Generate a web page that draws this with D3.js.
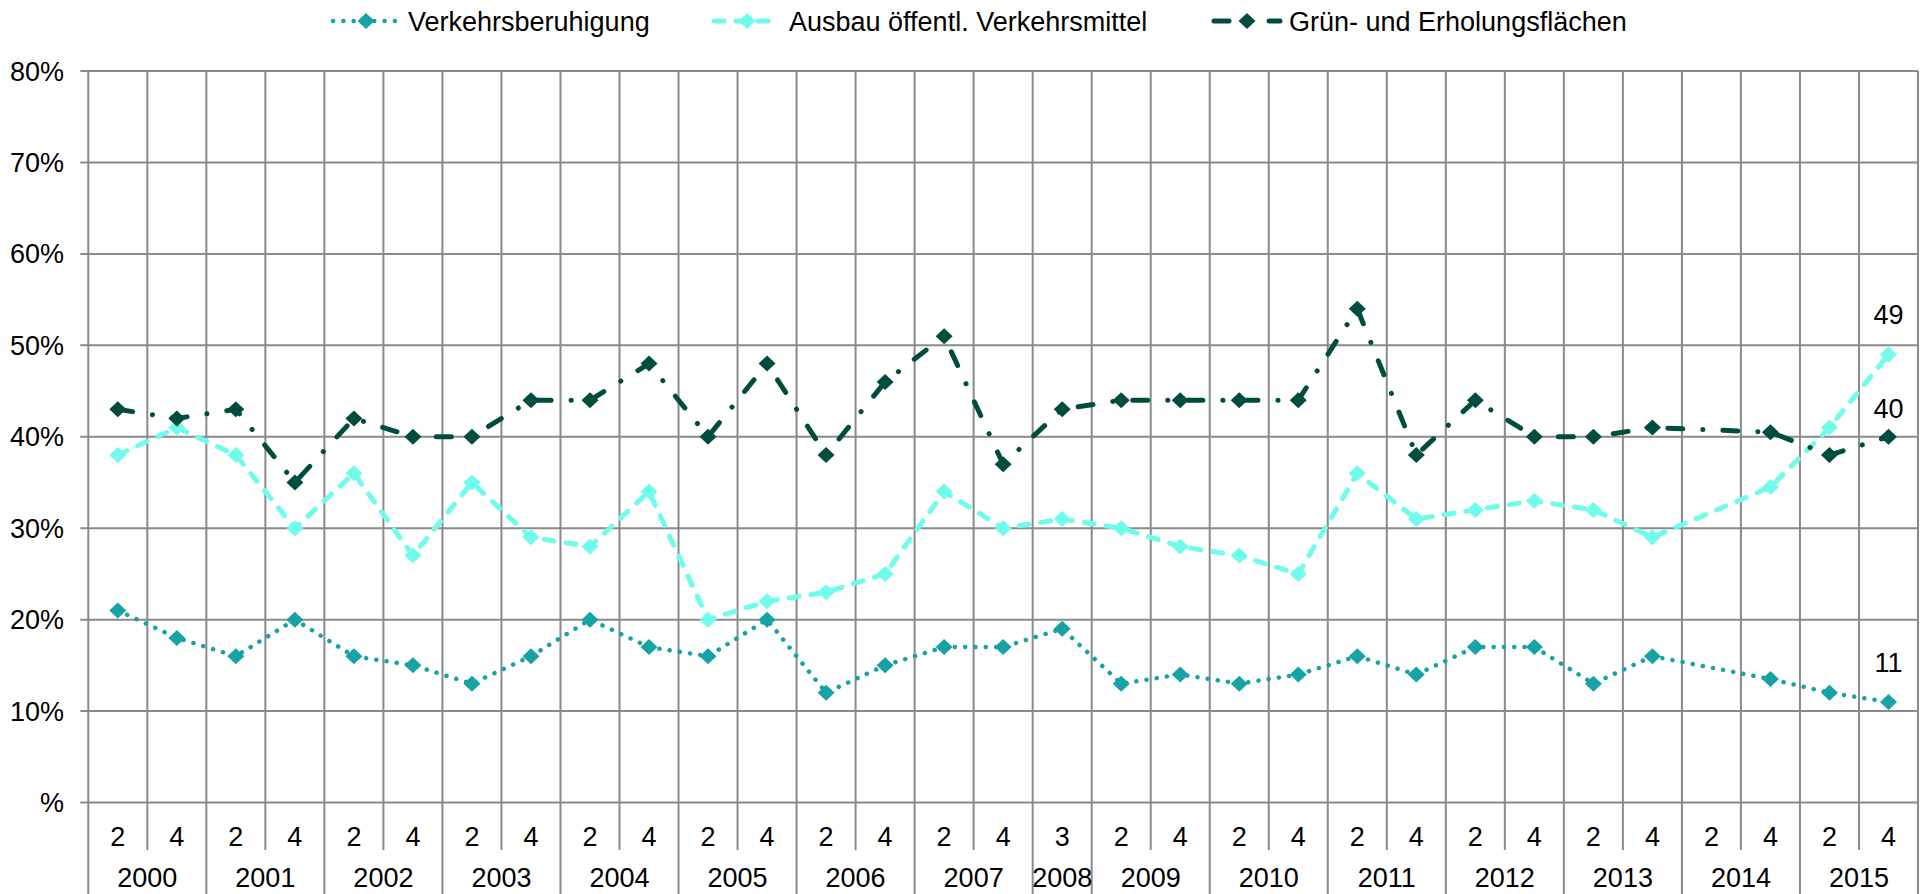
<!DOCTYPE html>
<html>
<head>
<meta charset="utf-8">
<script src="https://cdn.jsdelivr.net/npm/d3@7"></script>
<style>
body { margin: 0; background: #fff; }
svg { display: block; font-family: "Liberation Sans", Arial, sans-serif; }
</style>
</head>
<body>
<div id="chart"></div>
<script>
// Halbjahre (Jahr-Quartal) als Kategorien
const periods = [
  "2000-2", "2000-4", "2001-2", "2001-4", "2002-2", "2002-4", "2003-2", "2003-4",
  "2004-2", "2004-4", "2005-2", "2005-4", "2006-2", "2006-4", "2007-2", "2007-4",
  "2008-3", "2009-2", "2009-4", "2010-2", "2010-4", "2011-2", "2011-4", "2012-2",
  "2012-4", "2013-2", "2013-4", "2014-2", "2014-4", "2015-2", "2015-4"
];

const verkehrsberuhigung = [21, 18, 16, 20, 16, 15, 13, 16, 20, 17, 16, 20, 12, 15, 17, 17,
  19, 13, 14, 13, 14, 16, 14, 17, 17, 13, 16, null, 13.5, 12, 11];
const ausbau = [38, 41, 38, 30, 36, 27, 35, 29, 28, 34, 20, 22, 23, 25, 34, 30,
  31, 30, 28, 27, 25, 36, 31, 32, 33, 32, 29, null, 34.5, 41, 49];
const gruen = [43, 42, 43, 35, 42, 40, 40, 44, 44, 48, 40, 48, 38, 46, 51, 37,
  43, 44, 44, 44, 44, 54, 38, 44, 40, 40, 41, null, 40.5, 38, 40];

const seriesNames = ["Verkehrsberuhigung", "Ausbau öffentl. Verkehrsmittel", "Grün- und Erholungsflächen"];
const yTicks = [0, 10, 20, 30, 40, 50, 60, 70, 80];

const WIDTH = 1924;
const HEIGHT = 894;
const LEFT = 88.3, RIGHT = 1918, TOP = 71, BOTTOM = 802.5;
const GRID = "#8a8a8a";
const FONT = 27;

const styles = [
  { color: "#17a3a5", width: 4.5, dash: "0.1 10.2", cap: "round", labelDy: -30 },
  { color: "#6ffcea", width: 5, dash: "10 12", cap: "round", labelDy: -30 },
  { color: "#004d40", width: 5, dash: "15 20 0.1 20", cap: "round", labelDy: -19 }
];

const series = [verkehrsberuhigung, ausbau, gruen].map((values, k) => ({
  name: seriesNames[k],
  style: styles[k],
  points: values.map((v, i) => ({ p: periods[i], v: v })).filter(d => d.v != null)
}));

const svg = d3.select("#chart")
  .append("svg")
    .attr("width", WIDTH)
    .attr("height", HEIGHT);

const x = d3.scaleBand()
  .domain(periods)
  .range([LEFT, RIGHT]);

const y = d3.scaleLinear()
  .domain([0, 80])
  .range([BOTTOM, TOP]);

const diamond = "M0,-8L8.5,0L0,8L-8.5,0Z";
const yearOf = p => p.split("-")[0];
const quarterOf = p => p.split("-")[1];

// horizontale Gitterlinien + Achsenbeschriftung
svg.append("g")
  .selectAll("line")
  .data(yTicks)
  .enter()
  .append("line")
    .attr("x1", LEFT - 8)
    .attr("x2", RIGHT)
    .attr("y1", d => y(d))
    .attr("y2", d => y(d))
    .attr("stroke", GRID)
    .attr("stroke-width", 2);

svg.append("g")
  .selectAll("text")
  .data(yTicks)
  .enter()
  .append("text")
    .attr("x", 64)
    .attr("y", d => y(d) + 9.5)
    .attr("text-anchor", "end")
    .attr("font-size", FONT)
    .text(d => d === 0 ? "%" : d + "%");

// vertikale Linien an den Kategoriegrenzen
const bw = x.bandwidth();
const bounds = d3.range(periods.length + 1).map(i => {
  const yearEdge = i === 0 || i === periods.length || yearOf(periods[i - 1]) !== yearOf(periods[i]);
  return { x: LEFT + i * bw, yearEdge: yearEdge };
});

svg.append("g")
  .selectAll("line")
  .data(bounds)
  .enter()
  .append("line")
    .attr("x1", d => d.x)
    .attr("x2", d => d.x)
    .attr("y1", TOP)
    .attr("y2", d => d.yearEdge ? HEIGHT : 850)
    .attr("stroke", GRID)
    .attr("stroke-width", 2);

// Quartalsbeschriftung
svg.append("g")
  .selectAll("text")
  .data(periods)
  .enter()
  .append("text")
    .attr("x", d => x(d) + bw / 2)
    .attr("y", 846)
    .attr("text-anchor", "middle")
    .attr("font-size", FONT)
    .text(d => quarterOf(d));

// Jahresbeschriftung
const years = Array.from(d3.group(periods, yearOf), ([yr, ps]) => ({ yr: yr, ps: ps }));
svg.append("g")
  .selectAll("text")
  .data(years)
  .enter()
  .append("text")
    .attr("x", d => (x(d.ps[0]) + x(d.ps[d.ps.length - 1]) + bw) / 2)
    .attr("y", 887)
    .attr("text-anchor", "middle")
    .attr("font-size", FONT)
    .text(d => d.yr);

// Linien
const line = d3.line()
  .x(d => x(d.p) + bw / 2)
  .y(d => y(d.v));

const g = svg.append("g")
  .selectAll("g")
  .data(series)
  .enter()
  .append("g");

g.append("path")
  .attr("d", d => line(d.points))
  .attr("fill", "none")
  .attr("stroke", d => d.style.color)
  .attr("stroke-width", d => d.style.width)
  .attr("stroke-dasharray", d => d.style.dash)
  .attr("stroke-linecap", d => d.style.cap);

g.selectAll(".m")
  .data(d => d.points.map(pt => ({ pt: pt, color: d.style.color })))
  .enter()
  .append("path")
    .attr("class", "m")
    .attr("d", diamond)
    .attr("transform", d => `translate(${x(d.pt.p) + bw / 2},${y(d.pt.v)})`)
    .attr("fill", d => d.color);

// Wertbeschriftung am letzten Punkt
g.append("text")
  .attr("x", d => x(d.points[d.points.length - 1].p) + bw / 2)
  .attr("y", d => y(d.points[d.points.length - 1].v) + d.style.labelDy)
  .attr("text-anchor", "middle")
  .attr("font-size", FONT)
  .text(d => d.points[d.points.length - 1].v);

// Legende
const legendX = [331, 712, 1212];
const legend = svg.append("g")
  .selectAll("g")
  .data(series)
  .enter()
  .append("g")
    .attr("transform", (d, i) => `translate(${legendX[i]},21)`);

legend.append("line")
  .attr("x1", 2)
  .attr("x2", 68)
  .attr("stroke", d => d.style.color)
  .attr("stroke-width", d => d.style.width)
  .attr("stroke-dasharray", d => d.style.dash)
  .attr("stroke-linecap", d => d.style.cap);

legend.append("path")
  .attr("d", diamond)
  .attr("transform", "translate(35,0)")
  .attr("fill", d => d.style.color);

legend.append("text")
  .attr("x", 77)
  .attr("y", 9.5)
  .attr("font-size", FONT)
  .text(d => d.name);
</script>
</body>
</html>
